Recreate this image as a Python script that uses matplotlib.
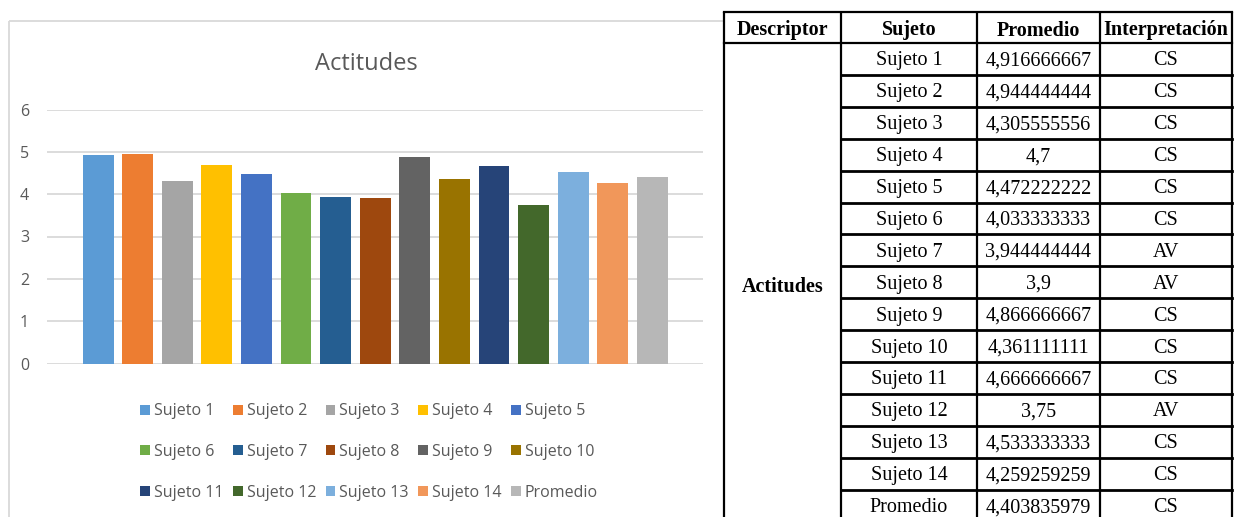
import matplotlib.pyplot as plt
from matplotlib.patches import Patch, Rectangle
from matplotlib import font_manager

W, H = 1236, 517

sujetos = ["Sujeto 1", "Sujeto 2", "Sujeto 3", "Sujeto 4", "Sujeto 5",
           "Sujeto 6", "Sujeto 7", "Sujeto 8", "Sujeto 9", "Sujeto 10",
           "Sujeto 11", "Sujeto 12", "Sujeto 13", "Sujeto 14", "Promedio"]
promedios = [4.916666667, 4.944444444, 4.305555556, 4.7, 4.472222222,
             4.033333333, 3.944444444, 3.9, 4.866666667, 4.361111111,
             4.666666667, 3.75, 4.533333333, 4.259259259, 4.403835979]
interpretacion = ["CS", "CS", "CS", "CS", "CS", "CS", "AV", "AV", "CS", "CS",
                  "CS", "AV", "CS", "CS", "CS"]
encabezados = ["Descriptor", "Sujeto", "Promedio", "Interpretación"]
descriptor = "Actitudes"

colores = ["#5B9BD5", "#ED7D31", "#A5A5A5", "#FFC000", "#4472C4",
           "#70AD47", "#255E91", "#9E480E", "#636363", "#997300",
           "#264478", "#43682B", "#7CAFDD", "#F1975A", "#B7B7B7"]

installed = {f.name for f in font_manager.fontManager.ttflist}
sans = [f for f in ["Liberation Sans Narrow", "Open Sans", "DejaVu Sans"] if f in installed]
serif = ["Liberation Serif", "DejaVu Serif"]
gris = "#595959"

fig = plt.figure(figsize=(W / 100, H / 100), dpi=100)
fig.patch.set_facecolor("white")

# fondo en pixeles para el marco del grafico y la tabla
bg = fig.add_axes([0, 0, 1, 1], zorder=0)
bg.set_xlim(0, W)
bg.set_ylim(H, 0)
bg.axis("off")
bg.add_patch(Rectangle((9, 21), 760, 520, fill=False, edgecolor="#D9D9D9", lw=1.3))

# grafico de barras
ax = fig.add_axes([47 / W, 153.5 / H, 656 / W, 254 / H], zorder=1)
x = list(range(len(sujetos)))
ax.bar(x, promedios, width=0.78, color=colores, zorder=2)
ax.set_ylim(0, 6)
ax.set_xlim(-1.29, 15.28)
ax.set_yticks(range(0, 7))
ax.yaxis.grid(True, color="#D9D9D9", lw=1.3, zorder=0)
ax.set_xticks([])
ax.tick_params(axis="y", length=0, pad=13, labelsize=11.5, labelcolor=gris)
for lab in ax.get_yticklabels():
    lab.set_family(sans)
for s in ax.spines.values():
    s.set_visible(False)
ax.patch.set_alpha(0)

fig.text(366 / W, 1 - 64 / H, descriptor, ha="center", va="center",
         fontsize=17, color=gris, family=sans)

# leyenda en filas de cinco
handles = [Patch(facecolor=c, edgecolor="none") for c in colores]
orden = [r * 5 + c for c in range(5) for r in range(3)]
fig.legend([handles[i] for i in orden], [sujetos[i] for i in orden],
           ncol=5, loc="center", bbox_to_anchor=(369 / W, 1 - 452 / H),
           frameon=False, handlelength=0.6, handleheight=0.6, handletextpad=0.25,
           columnspacing=0.6, labelspacing=1.55,
           prop={"family": sans, "size": 11.5}, labelcolor=gris)

# tabla
tb = fig.add_axes([0, 0, 1, 1], zorder=3)
tb.set_xlim(0, W)
tb.set_ylim(H, 0)
tb.axis("off")
cols = [724, 841, 977, 1100, 1232]
top, hdr, rh = 12, 43, 31.9
bottom = hdr + rh * len(sujetos)
tb.add_patch(Rectangle((cols[0], top), cols[-1] - cols[0], bottom - top,
                       facecolor="white", edgecolor="none"))
lw = 1.6
for cx in cols:
    tb.plot([cx, cx], [top, bottom], color="black", lw=lw, solid_capstyle="butt")
tb.plot([cols[0], cols[-1]], [top, top], color="black", lw=lw)
tb.plot([cols[0], cols[-1]], [hdr, hdr], color="black", lw=lw)
for k in range(1, len(sujetos) + 1):
    y = hdr + rh * k
    tb.plot([cols[1], cols[-1]], [y, y], color="black", lw=2.0)

fs = 14.5
for j, txt in enumerate(encabezados):
    tb.text((cols[j] + cols[j + 1]) / 2, (top + hdr) / 2 + 3, txt, ha="center",
            va="center", fontsize=fs, fontweight="bold", family=serif)

tb.text((cols[0] + cols[1]) / 2, (hdr + bottom) / 2 + 5, descriptor, ha="center",
        va="center", fontsize=fs, fontweight="bold", family=serif)

for k, (s, v, it) in enumerate(zip(sujetos, promedios, interpretacion)):
    yc = hdr + rh * (k + 0.5) + 2
    tb.text((cols[1] + cols[2]) / 2, yc, s, ha="center", va="center",
            fontsize=fs, family=serif)
    tb.text((cols[2] + cols[3]) / 2, yc, f"{v:.10g}".replace(".", ","),
            ha="center", va="center", fontsize=fs, family=serif)
    tb.text((cols[3] + cols[4]) / 2, yc, it, ha="center", va="center",
            fontsize=fs, family=serif)

fig.savefig("out.png", dpi=100)
